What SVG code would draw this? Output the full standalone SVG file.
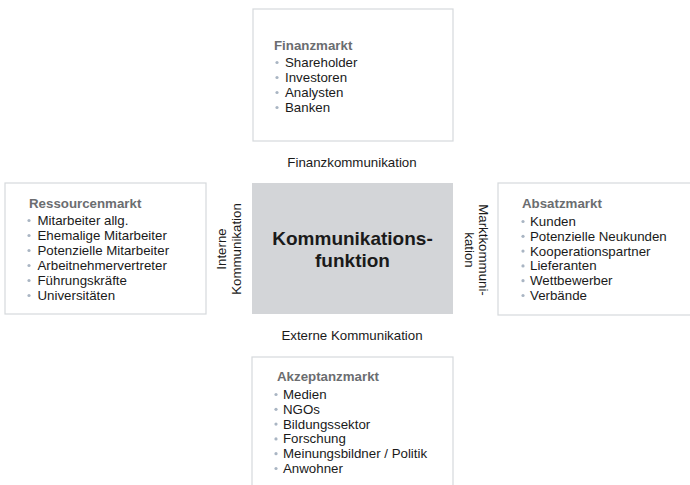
<svg xmlns="http://www.w3.org/2000/svg" width="690" height="485" viewBox="0 0 690 485">
<style>
.box{fill:#ffffff;stroke:#d6d9dc;stroke-width:1.2}
.core{fill:#d3d5d8;stroke:none}
.title{font-family:"Liberation Sans",Arial,sans-serif;font-size:13.3px;font-weight:bold;fill:#6b6d70}
.item{font-family:"Liberation Sans",Arial,sans-serif;font-size:13.3px;fill:#1a1a1a}
.lbl{font-family:"Liberation Sans",Arial,sans-serif;font-size:13.3px;fill:#1a1a1a}
.big{font-family:"Liberation Sans",Arial,sans-serif;font-size:19px;font-weight:bold;fill:#1a1a1a}
.dot{fill:#a9b5c3}
</style>
<rect width="690" height="485" fill="#ffffff"/>

<g id="finanzmarkt">
<rect class="box" x="253" y="9" width="200" height="132"/>
<text class="title" x="274" y="50">Finanzmarkt</text>
<circle class="dot" cx="277" cy="62.5" r="1.6"/>
<circle class="dot" cx="277" cy="77.5" r="1.6"/>
<circle class="dot" cx="277" cy="92.5" r="1.6"/>
<circle class="dot" cx="277" cy="107.5" r="1.6"/>
<text class="item" x="285" y="67">Shareholder</text>
<text class="item" x="285" y="82">Investoren</text>
<text class="item" x="285" y="97">Analysten</text>
<text class="item" x="285" y="112">Banken</text>
</g>

<g id="ressourcenmarkt">
<rect class="box" x="5" y="183" width="201" height="131"/>
<text class="title" x="29" y="208">Ressourcenmarkt</text>
<circle class="dot" cx="29" cy="220.5" r="1.6"/>
<circle class="dot" cx="29" cy="235.5" r="1.6"/>
<circle class="dot" cx="29" cy="250.5" r="1.6"/>
<circle class="dot" cx="29" cy="265.5" r="1.6"/>
<circle class="dot" cx="29" cy="280.5" r="1.6"/>
<circle class="dot" cx="29" cy="295.5" r="1.6"/>
<text class="item" x="37.5" y="225">Mitarbeiter allg.</text>
<text class="item" x="37.5" y="240">Ehemalige Mitarbeiter</text>
<text class="item" x="37.5" y="255">Potenzielle Mitarbeiter</text>
<text class="item" x="37.5" y="270">Arbeitnehmervertreter</text>
<text class="item" x="37.5" y="285">Führungskräfte</text>
<text class="item" x="37.5" y="300">Universitäten</text>
</g>

<g id="kommunikationsfunktion">
<rect class="core" x="252" y="183" width="201" height="131"/>
<text class="big" x="352.5" y="245" text-anchor="middle">Kommunikations-</text>
<text class="big" x="352.5" y="267" text-anchor="middle">funktion</text>
</g>

<g id="absatzmarkt">
<rect class="box" x="498" y="183" width="200" height="132"/>
<text class="title" x="522" y="208">Absatzmarkt</text>
<circle class="dot" cx="523" cy="221.5" r="1.6"/>
<circle class="dot" cx="523" cy="236.3" r="1.6"/>
<circle class="dot" cx="523" cy="251.1" r="1.6"/>
<circle class="dot" cx="523" cy="265.9" r="1.6"/>
<circle class="dot" cx="523" cy="280.7" r="1.6"/>
<circle class="dot" cx="523" cy="295.5" r="1.6"/>
<text class="item" x="530" y="226">Kunden</text>
<text class="item" x="530" y="240.8">Potenzielle Neukunden</text>
<text class="item" x="530" y="255.6">Kooperationspartner</text>
<text class="item" x="530" y="270.4">Lieferanten</text>
<text class="item" x="530" y="285.2">Wettbewerber</text>
<text class="item" x="530" y="300">Verbände</text>
</g>

<g id="akzeptanzmarkt">
<rect class="box" x="252" y="357" width="201" height="140"/>
<text class="title" x="277" y="381">Akzeptanzmarkt</text>
<circle class="dot" cx="276" cy="394.5" r="1.6"/>
<circle class="dot" cx="276" cy="409.3" r="1.6"/>
<circle class="dot" cx="276" cy="424.1" r="1.6"/>
<circle class="dot" cx="276" cy="438.9" r="1.6"/>
<circle class="dot" cx="276" cy="453.7" r="1.6"/>
<circle class="dot" cx="276" cy="468.5" r="1.6"/>
<text class="item" x="283" y="399">Medien</text>
<text class="item" x="283" y="413.8">NGOs</text>
<text class="item" x="283" y="428.6">Bildungssektor</text>
<text class="item" x="283" y="443.4">Forschung</text>
<text class="item" x="283" y="458.2">Meinungsbildner / Politik</text>
<text class="item" x="283" y="473">Anwohner</text>
</g>

<g id="connectors">
<text class="lbl" x="352" y="166.5" text-anchor="middle">Finanzkommunikation</text>
<text class="lbl" x="352" y="339.5" text-anchor="middle">Externe Kommunikation</text>
<text class="lbl" transform="translate(226,249) rotate(-90)" text-anchor="middle"><tspan x="0" y="0">Interne</tspan><tspan x="0" y="15">Kommunikation</tspan></text>
<text class="lbl" transform="translate(479,250) rotate(90)" text-anchor="middle"><tspan x="0" y="0">Marktkommuni-</tspan><tspan x="0" y="14">kation</tspan></text>
</g>
</svg>
